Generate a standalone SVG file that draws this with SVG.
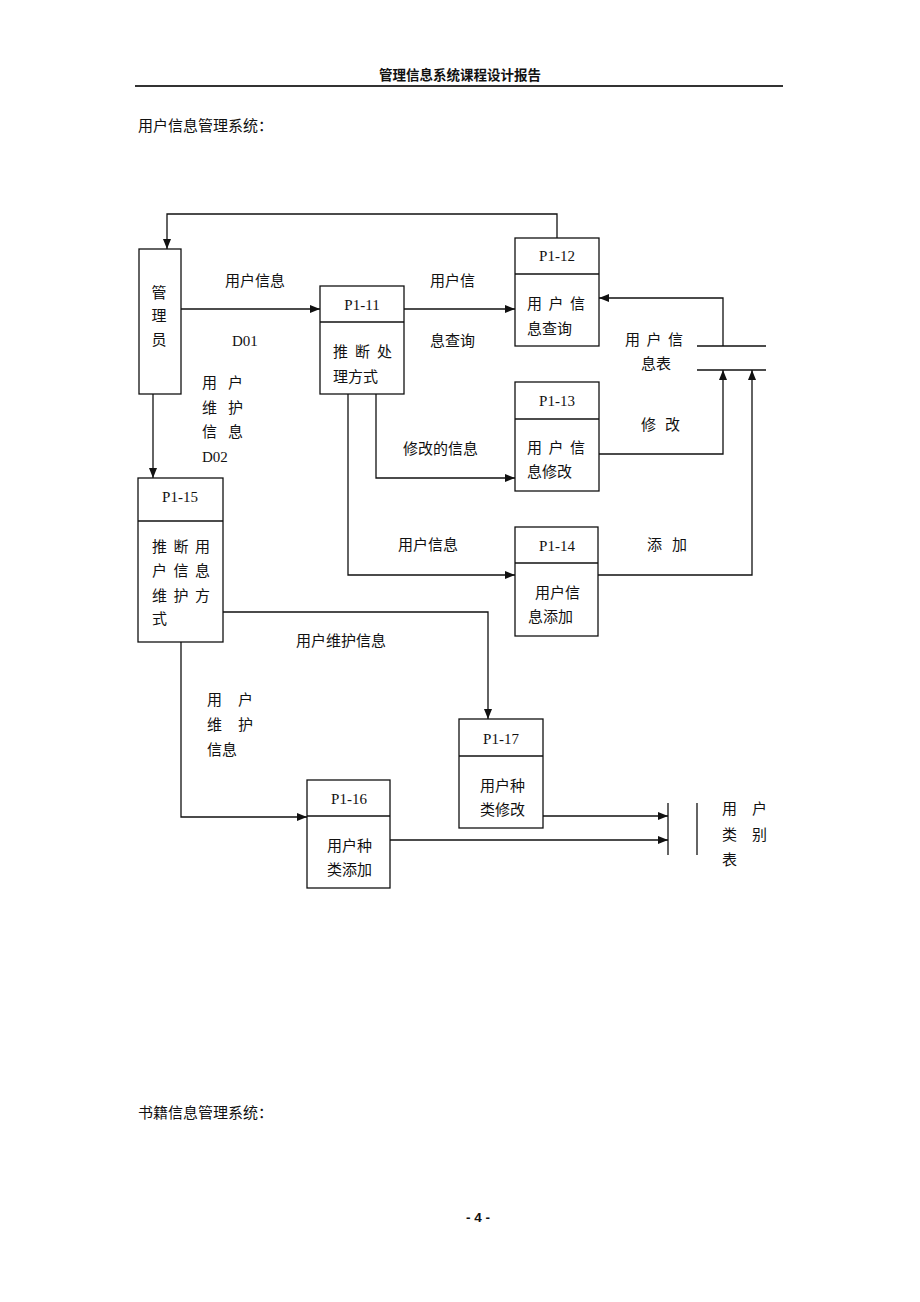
<svg xmlns="http://www.w3.org/2000/svg" width="920" height="1302" viewBox="0 0 920 1302">
<style>
.t{font-family:"Liberation Serif","Noto Sans CJK SC",serif;font-size:15px;fill:#111}
.c{text-anchor:middle}
.h{font-family:"Liberation Sans","Noto Sans CJK SC",sans-serif;font-size:13.5px;font-weight:bold;fill:#111}
.box{fill:#fff;stroke:#111;stroke-width:1.3}
.ln{fill:none;stroke:#111;stroke-width:1.3}
</style>
<defs>
<marker id="ar" markerUnits="userSpaceOnUse" markerWidth="11" markerHeight="10" refX="10" refY="4" orient="auto">
<path d="M0,0 L10,4 L0,8 z" fill="#111"/>
</marker>
</defs>
<rect width="920" height="1302" fill="#fff"/>
<g id="header">
<text class="h c" x="460" y="80">管理信息系统课程设计报告</text>
<line x1="135" y1="86" x2="783" y2="86" stroke="#333" stroke-width="2"/>
</g>
<text class="t" x="138" y="131">用户信息管理系统：</text>

<g id="connectors">
<polyline class="ln" points="557,238 557,214 167,214 167,249" marker-end="url(#ar)"/>
<line class="ln" x1="181" y1="309" x2="320" y2="309" marker-end="url(#ar)"/>
<line class="ln" x1="404" y1="309" x2="515" y2="309" marker-end="url(#ar)"/>
<polyline class="ln" points="723,346 723,298 599,298" marker-end="url(#ar)"/>
<polyline class="ln" points="599,454 723,454 723,370" marker-end="url(#ar)"/>
<polyline class="ln" points="376,394 376,478 515,478" marker-end="url(#ar)"/>
<polyline class="ln" points="348,394 348,575 515,575" marker-end="url(#ar)"/>
<polyline class="ln" points="598,575 752,575 752,370" marker-end="url(#ar)"/>
<line class="ln" x1="153" y1="394" x2="153" y2="478" marker-end="url(#ar)"/>
<polyline class="ln" points="223,612 488,612 488,719" marker-end="url(#ar)"/>
<polyline class="ln" points="181,642 181,817 307,817" marker-end="url(#ar)"/>
<line class="ln" x1="543" y1="816" x2="668" y2="816" marker-end="url(#ar)"/>
<line class="ln" x1="390" y1="840" x2="668" y2="840" marker-end="url(#ar)"/>
</g>

<g id="labels">
<text class="t" x="225" y="286">用户信息</text>
<text class="t" x="232" y="346">D01</text>
<text class="t" x="430" y="286">用户信</text>
<text class="t" x="430" y="346">息查询</text>
<text class="t" x="641" y="430" letter-spacing="9">修改</text>
<text class="t" x="403" y="454">修改的信息</text>
<text class="t" x="398" y="550">用户信息</text>
<text class="t" x="647" y="550" letter-spacing="10">添加</text>
<text class="t" x="202" y="388" letter-spacing="11">用户</text>
<text class="t" x="202" y="413" letter-spacing="11">维护</text>
<text class="t" x="202" y="437" letter-spacing="11">信息</text>
<text class="t" x="202" y="462">D02</text>
<text class="t" x="296" y="646">用户维护信息</text>
<text class="t" x="207" y="705" letter-spacing="16">用户</text>
<text class="t" x="207" y="730" letter-spacing="16">维护</text>
<text class="t" x="207" y="755">信息</text>
</g>

<g id="manager">
<rect class="box" x="139" y="249" width="42" height="145"/>
<text class="t c" x="159" y="298">管</text>
<text class="t c" x="159" y="321">理</text>
<text class="t c" x="159" y="345">员</text>
</g>

<g id="p1-11">
<rect class="box" x="320" y="286" width="84" height="108"/>
<line class="ln" x1="320" y1="322" x2="404" y2="322"/>
<text class="t c" x="362" y="310">P1-11</text>
<text class="t" x="333" y="357" letter-spacing="7">推断处</text>
<text class="t" x="333" y="382">理方式</text>
</g>

<g id="p1-12">
<rect class="box" x="515" y="238" width="84" height="108"/>
<line class="ln" x1="515" y1="274" x2="599" y2="274"/>
<text class="t c" x="557" y="261">P1-12</text>
<text class="t" x="527" y="309" letter-spacing="6.5">用户信</text>
<text class="t" x="527" y="334">息查询</text>
</g>

<g id="store-user-info">
<line class="ln" x1="697" y1="346" x2="766" y2="346"/>
<line class="ln" x1="697" y1="370" x2="766" y2="370"/>
<text class="t" x="625" y="345" letter-spacing="6.5">用户信</text>
<text class="t" x="641" y="369">息表</text>
</g>

<g id="p1-13">
<rect class="box" x="515" y="382" width="84" height="109"/>
<line class="ln" x1="515" y1="419" x2="599" y2="419"/>
<text class="t c" x="557" y="406">P1-13</text>
<text class="t" x="527" y="453" letter-spacing="6.5">用户信</text>
<text class="t" x="527" y="477">息修改</text>
</g>

<g id="p1-14">
<rect class="box" x="515" y="527" width="83" height="109"/>
<line class="ln" x1="515" y1="563" x2="598" y2="563"/>
<text class="t c" x="557" y="551">P1-14</text>
<text class="t" x="535" y="598">用户信</text>
<text class="t" x="528" y="622">息添加</text>
</g>

<g id="p1-15">
<rect class="box" x="138" y="478" width="85" height="164"/>
<line class="ln" x1="138" y1="521" x2="223" y2="521"/>
<text class="t c" x="180" y="502">P1-15</text>
<text class="t" x="152" y="552" letter-spacing="6.5">推断用</text>
<text class="t" x="152" y="576" letter-spacing="6.5">户信息</text>
<text class="t" x="152" y="601" letter-spacing="6.5">维护方</text>
<text class="t" x="152" y="624">式</text>
</g>

<g id="p1-17">
<rect class="box" x="459" y="719" width="84" height="109"/>
<line class="ln" x1="459" y1="756" x2="543" y2="756"/>
<text class="t c" x="501" y="744">P1-17</text>
<text class="t" x="480" y="791">用户种</text>
<text class="t" x="480" y="815">类修改</text>
</g>

<g id="p1-16">
<rect class="box" x="307" y="780" width="83" height="108"/>
<line class="ln" x1="307" y1="816" x2="390" y2="816"/>
<text class="t c" x="349" y="804">P1-16</text>
<text class="t" x="327" y="851">用户种</text>
<text class="t" x="327" y="875">类添加</text>
</g>

<g id="store-user-category">
<line class="ln" x1="668" y1="803" x2="668" y2="855"/>
<line class="ln" x1="697" y1="803" x2="697" y2="855"/>
<text class="t" x="722" y="814" letter-spacing="15">用户</text>
<text class="t" x="722" y="840" letter-spacing="15">类别</text>
<text class="t" x="722" y="865">表</text>
</g>

<text class="t" x="138" y="1118">书籍信息管理系统：</text>
<text class="h c" x="478" y="1222">- 4 -</text>
</svg>
